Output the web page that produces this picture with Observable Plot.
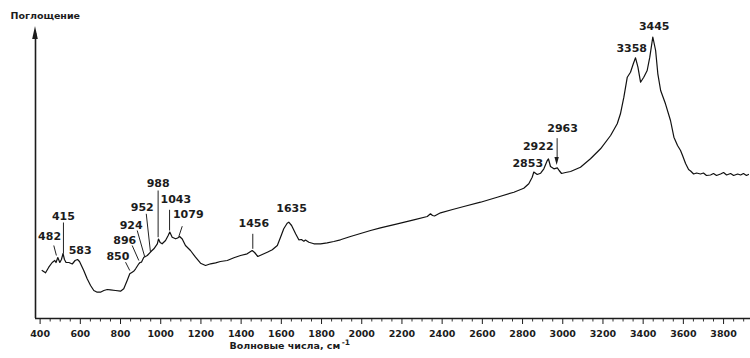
<!DOCTYPE html>
<html>
<head>
<meta charset="utf-8">
<script src="https://cdn.jsdelivr.net/npm/d3@7"></script>
<script src="https://cdn.jsdelivr.net/npm/@observablehq/plot@0.6"></script>
<style>
  html, body { margin: 0; padding: 0; background: #fff; }
</style>
</head>
<body>
<div id="chart"></div>
<script>
// IR spectrum: wavenumber (cm^-1) and relative absorbance
const wavenumber = [410,427,443,460,473,479,488,498,506,514,521,529,543,560,574,586,596,603,617,634,651,667,684,700,717,734,750,775,800,816,833,846,858,867,875,891,897,904,916,924,933,949,954,966,983,989,997,1007,1024,1037,1045,1057,1074,1084,1094,1107,1123,1148,1173,1198,1223,1248,1273,1297,1331,1364,1397,1430,1455,1467,1483,1505,1530,1555,1580,1596,1612,1629,1637,1651,1671,1687,1700,1712,1720,1737,1762,1795,1828,1861,1894,1944,1994,2044,2093,2177,2259,2326,2342,2352,2362,2392,2452,2508,2591,2674,2757,2806,2831,2848,2856,2873,2890,2906,2923,2929,2939,2956,2973,2982,2994,3014,3039,3088,3138,3188,3238,3271,3287,3304,3321,3337,3351,3362,3374,3387,3403,3420,3433,3448,3462,3473,3487,3511,3536,3553,3571,3586,3596,3611,3626,3636,3651,3666,3685,3700,3715,3735,3750,3765,3785,3800,3815,3835,3850,3870,3885,3899,3914,3924];
const absorbance = [0.48,0.457,0.513,0.56,0.58,0.56,0.61,0.56,0.59,0.65,0.59,0.56,0.56,0.545,0.58,0.59,0.57,0.54,0.48,0.397,0.33,0.28,0.263,0.263,0.28,0.29,0.287,0.28,0.273,0.297,0.38,0.447,0.463,0.475,0.497,0.547,0.56,0.563,0.613,0.62,0.63,0.663,0.675,0.697,0.747,0.795,0.76,0.747,0.78,0.83,0.865,0.813,0.797,0.805,0.82,0.795,0.73,0.68,0.613,0.553,0.53,0.547,0.557,0.57,0.58,0.607,0.63,0.647,0.68,0.66,0.62,0.64,0.663,0.687,0.73,0.813,0.897,0.953,0.963,0.93,0.847,0.787,0.79,0.773,0.785,0.763,0.747,0.747,0.757,0.77,0.787,0.82,0.85,0.88,0.907,0.947,0.987,1.02,1.047,1.03,1.025,1.057,1.09,1.12,1.163,1.213,1.263,1.303,1.347,1.413,1.465,1.44,1.453,1.497,1.58,1.595,1.52,1.497,1.507,1.48,1.45,1.46,1.47,1.513,1.597,1.697,1.83,1.947,2.047,2.213,2.413,2.463,2.547,2.607,2.513,2.363,2.413,2.48,2.613,2.815,2.68,2.447,2.28,2.147,1.98,1.813,1.73,1.68,1.63,1.55,1.49,1.475,1.445,1.455,1.445,1.455,1.43,1.435,1.45,1.43,1.445,1.46,1.435,1.45,1.43,1.445,1.435,1.45,1.43,1.44];

// Peak annotations (text anchor in data units)
const peakLabels = ["482","415","583","850","896","924","952","988","1043","1079","1456","1635","2853","2922","2963","3358","3445"];
const peakLabelX = [447,516,599,787,821,853,908,987,1075,1137,1463,1651,2826,2878,2999,3343,3455];
const peakLabelY = [0.79,0.99,0.65,0.59,0.747,0.897,1.08,1.32,1.157,1.007,0.913,1.063,1.52,1.69,1.863,2.663,2.89];

// Leader lines from labels to peaks
const leaderX1 = [468,516,825,858,883,928,987,1044,1107,1458,2972];
const leaderY1 = [0.73,0.96,0.563,0.73,0.88,1.047,1.28,1.087,0.923,0.847,1.803];
const leaderX2 = [481,516,846,891,921,949,987,1044,1090,1458,2972];
const leaderY2 = [0.63,0.65,0.48,0.58,0.613,0.663,0.813,0.88,0.82,0.697,1.6];

// Axis ticks
const xTickValues = [400,600,800,1000,1200,1400,1600,1800,2000,2200,2400,2600,2800,3000,3200,3400,3600,3800];
const xTickLabels = ["400","600","800","1000","1200","1400","1600","1800","2000","2200","2400","2600","2800","3000","3200","3400","3600","3800"];
const xMinorTicks = d3.range(400, 3901, 50).filter(v => v % 200 !== 0);

const yTitle = "Поглощение";
const xTitle = "Волновые числа, см";
const xTitleSup = "-1";

const spectrum = wavenumber.map((w, i) => ({w, a: absorbance[i]}));
const peaks = peakLabels.map((t, i) => ({t, x: peakLabelX[i], y: peakLabelY[i]}));
const leaders = leaderX1.map((x1, i) => ({x1, y1: leaderY1[i], x2: leaderX2[i], y2: leaderY2[i]}));

const chart = Plot.plot({
  width: 750,
  height: 358,
  marginLeft: 35,
  marginRight: 0,
  marginTop: 20,
  marginBottom: 40,
  style: {fontFamily: "'DejaVu Sans', sans-serif", fontSize: "9.5px", fontWeight: "bold", color: "#1c1c1c", background: "#fff"},
  x: {
    domain: [377, 3934],
    ticks: xTickValues,
    tickFormat: (d) => xTickLabels[xTickValues.indexOf(d)],
    tickSize: 6,
    tickPadding: 6,
    line: true,
    label: null
  },
  y: {domain: [0, 2.98], axis: null},
  marks: [
    Plot.ruleX(xMinorTicks, {y1: 0, y2: -0.035, stroke: "#333", strokeWidth: 1}),
    Plot.ruleX([377], {y1: 0, y2: 2.85, stroke: "#1c1c1c", strokeWidth: 1.6}),
    Plot.ruleY([0], {stroke: "#1c1c1c", strokeWidth: 1.6}),
    Plot.line(spectrum, {x: "w", y: "a", stroke: "#111", strokeWidth: 1.2}),
    Plot.link(leaders, {x1: "x1", y1: "y1", x2: "x2", y2: "y2", stroke: "#222", strokeWidth: 1}),
    Plot.text(peaks, {x: "x", y: "y", text: "t", fontSize: 11, fontWeight: "bold", lineAnchor: "bottom", fill: "#1c1c1c"}),
    Plot.text([yTitle], {frameAnchor: "top-left", dx: -25, dy: -2, lineAnchor: "bottom", textAnchor: "start", fontSize: 9.5, fontWeight: "bold"}),
    Plot.text([xTitle], {x: 1893, y: -0.3, textAnchor: "end", lineAnchor: "bottom", fontSize: 9.5, fontWeight: "bold"}),
    Plot.text([xTitleSup], {x: 1900, y: -0.265, textAnchor: "start", lineAnchor: "bottom", fontSize: 7.5, fontWeight: "bold"})
  ]
});

document.getElementById("chart").appendChild(chart);

// Filled arrow heads (y-axis arrow and 2963 pointer), positioned via the plot's scales
const sx = chart.scale("x"), sy = chart.scale("y");
const svg = d3.select(chart);
function head(xv, yTip, yBase, hw) {
  const x = sx.apply(xv), t = sy.apply(yTip), b = sy.apply(yBase);
  svg.append("path")
    .attr("d", `M${x},${t}L${x - hw},${b}L${x + hw},${b}Z`)
    .attr("fill", "#1c1c1c");
}
head(377, 2.92, 2.79, 2.8);
head(2972, 1.53, 1.61, 2.2);
</script>
</body>
</html>
